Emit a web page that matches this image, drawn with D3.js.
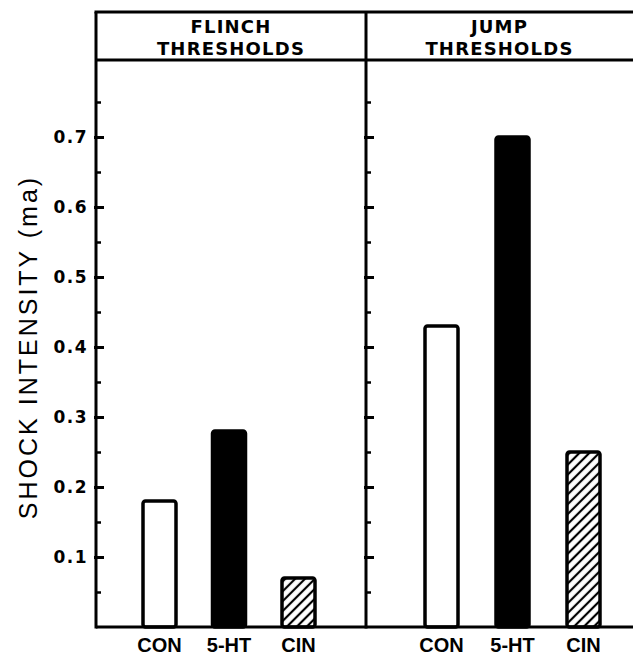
<!DOCTYPE html>
<html>
<head>
<meta charset="utf-8">
<script src="https://cdn.jsdelivr.net/npm/d3@7"></script>
<style>
  body { margin: 0; background: white; }
  svg { display: block; }
</style>
</head>
<body>
<div id="container"></div>
<script>
let w = 633;
let h = 656;

// data
const categories = ["CON", "5-HT", "CIN"];
const flinchTitle = ["FLINCH", "THRESHOLDS"];
const jumpTitle = ["JUMP", "THRESHOLDS"];
const flinchValues = [0.18, 0.28, 0.07];
const jumpValues = [0.43, 0.70, 0.25];
const majorTicks = [0.1, 0.2, 0.3, 0.4, 0.5, 0.6, 0.7];
const minorTicks = [0.05, 0.15, 0.25, 0.35, 0.45, 0.55, 0.65, 0.75];
const yTitle = "SHOCK INTENSITY (ma)";

// layout
let frameTop = 12;
let headerBottom = 60;
let baseY = 627;
let leftX = 96;
let midX = 366;
let rightX = 640;
let barW = 33;

let viz = d3.select("#container")
  .append("svg")
    .attr("width", w)
    .attr("height", h)
    .style("background-color", "white")
;

let defs = viz.append("defs");
let hatch = defs.append("pattern")
    .attr("id", "hatch")
    .attr("patternUnits", "userSpaceOnUse")
    .attr("width", 7)
    .attr("height", 7)
    .attr("patternTransform", "rotate(45)")
;
hatch.append("rect").attr("width", 7).attr("height", 7).attr("fill", "white");
hatch.append("line")
    .attr("x1", 2).attr("y1", 0).attr("x2", 2).attr("y2", 7)
    .attr("stroke", "black")
    .attr("stroke-width", 2.2)
;

let yScale = d3.scaleLinear().domain([0, 0.81]).range([baseY, headerBottom]);

let panels = [
  { title: flinchTitle, values: flinchValues, x0: leftX, x1: midX, range: [159.5, 298.5], labels: true },
  { title: jumpTitle, values: jumpValues, x0: midX, x1: rightX, range: [441.5, 583.5], labels: false }
];

function getFill(d, i) {
  if (categories[i] == "CON") {
    return "white";
  } else if (categories[i] == "5-HT") {
    return "black";
  } else {
    return "url(#hatch)";
  }
}

panels.forEach(function(p) {
  let g = viz.append("g").classed("panel", true);
  let xScale = d3.scalePoint().domain(categories).range(p.range);

  // minor ticks
  let minorAxis = d3.axisLeft(yScale)
      .tickValues(minorTicks)
      .tickSize(-5)
      .tickFormat("")
  ;
  let gm = g.append("g")
      .attr("transform", "translate(" + p.x0 + ",0)")
      .call(minorAxis);
  gm.select(".domain").remove();
  gm.selectAll("line").attr("stroke-width", 2.5);

  // major ticks, with labels on the left panel only
  let majorAxis = d3.axisLeft(yScale)
      .tickValues(majorTicks)
      .tickSize(-8)
      .tickPadding(8)
      .tickFormat(p.labels ? d3.format(".1f") : "")
  ;
  let ga = g.append("g")
      .attr("transform", "translate(" + p.x0 + ",0)")
      .call(majorAxis);
  ga.select(".domain").remove();
  ga.selectAll("line").attr("x1", -2).attr("stroke-width", 3);
  ga.selectAll("text")
      .attr("x", -8)
      .style("font-family", "'DejaVu Sans', sans-serif")
      .style("font-weight", "bold")
      .style("font-size", "17px")
      .style("letter-spacing", "1.5px")
      .attr("fill", "black")
  ;

  // bars
  g.selectAll("rect.bar").data(p.values).enter()
    .append("rect")
      .classed("bar", true)
      .attr("x", (d, i) => xScale(categories[i]) - barW / 2)
      .attr("y", d => yScale(d))
      .attr("width", barW)
      .attr("height", d => baseY - yScale(d))
      .attr("rx", 2.5)
      .attr("fill", getFill)
      .attr("stroke", "black")
      .attr("stroke-width", 3.5)
  ;

  // category labels
  g.selectAll("text.cat").data(categories).enter()
    .append("text")
      .classed("cat", true)
      .attr("x", d => xScale(d))
      .attr("y", 652)
      .attr("text-anchor", "middle")
      .style("font-family", "'Liberation Sans', Arial, sans-serif")
      .style("font-weight", "bold")
      .style("font-size", "20px")
      .text(d => d)
  ;

  // header title
  let cx = (p.x0 + Math.min(p.x1, w)) / 2;
  g.selectAll("text.title").data(p.title).enter()
    .append("text")
      .classed("title", true)
      .attr("x", cx)
      .attr("y", (d, i) => 33 + i * 22)
      .attr("text-anchor", "middle")
      .style("font-family", "'DejaVu Sans', sans-serif")
      .style("font-weight", "bold")
      .style("font-size", "18px")
      .style("letter-spacing", "1.2px")
      .text(d => d)
  ;
});

// frame lines
let frame = viz.append("g").classed("frame", true)
    .attr("stroke", "black")
    .attr("stroke-width", 3)
    .attr("fill", "none");
frame.append("line").attr("x1", leftX - 1.5).attr("x2", w).attr("y1", frameTop).attr("y2", frameTop);
frame.append("line").attr("x1", leftX).attr("x2", w).attr("y1", headerBottom).attr("y2", headerBottom);
frame.append("line").attr("x1", leftX).attr("x2", leftX).attr("y1", frameTop).attr("y2", baseY + 1.5);
frame.append("line").attr("x1", midX).attr("x2", midX).attr("y1", frameTop).attr("y2", baseY + 1.5);
frame.append("line").attr("x1", leftX).attr("x2", w).attr("y1", baseY).attr("y2", baseY);

// y title
viz.append("text")
    .attr("transform", "translate(37," + 347 + ") rotate(-90)")
    .attr("text-anchor", "middle")
    .style("font-family", "'Liberation Sans', Arial, sans-serif")
    .style("font-size", "25px")
    .style("letter-spacing", "3px")
    .text(yTitle)
;
</script>
</body>
</html>
